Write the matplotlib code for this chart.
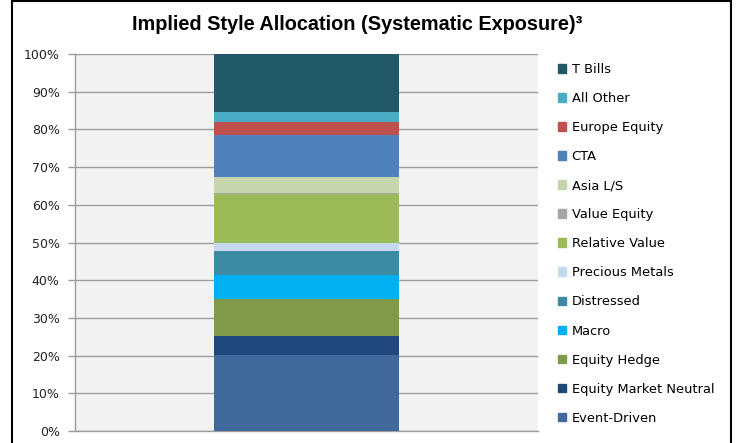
import matplotlib.pyplot as plt
import matplotlib.patches as mpatches
from matplotlib.ticker import PercentFormatter

plt.rcParams["font.family"] = ["DejaVu Sans"]

# stacked from the bottom up
styles = ["Event-Driven", "Equity Market Neutral", "Equity Hedge", "Macro",
          "Distressed", "Precious Metals", "Relative Value", "Value Equity",
          "Asia L/S", "CTA", "Europe Equity", "All Other", "T Bills"]
weights = [20.2, 5.0, 9.8, 6.4, 6.3, 2.1, 13.1, 0.2, 4.3, 11.0, 3.6, 2.6, 15.4]
colors = ["#3F6A9B", "#1F497D", "#7F9A48", "#00B0F0", "#3C8BA5", "#C6D9F1",
          "#9BBB59", "#A6A6A6", "#C5D6AC", "#4F81BD", "#C0504D", "#4BACC6",
          "#215968"]

fig = plt.figure(figsize=(7.36, 4.43), dpi=100)
ax = fig.add_axes([75 / 736, 12 / 443, 463 / 736, 377 / 443])
ax.set_facecolor("#F2F2F2")

bottom = 0
for name, w, c in zip(styles, weights, colors):
    ax.bar(0, w, width=0.4, bottom=bottom, color=c, label=name, zorder=3)
    bottom += w

ax.set_xlim(-0.5, 0.5)
ax.set_ylim(0, 100)
ax.set_yticks(range(0, 101, 10))
ax.yaxis.set_major_formatter(PercentFormatter(decimals=0))
ax.set_xticks([])
ax.grid(True, axis="y", color="#9C9C9C", linewidth=1.0, zorder=1)
ax.tick_params(axis="y", length=5, width=1.0, color="#9C9C9C",
               labelsize=9, pad=6, labelcolor="#222222")
for s in ["top", "right"]:
    ax.spines[s].set_visible(False)
for s in ["left", "bottom"]:
    ax.spines[s].set_color("#9C9C9C")
    ax.spines[s].set_linewidth(1.0)

handles = [mpatches.Patch(color=c) for c in colors][::-1]
fig.legend(handles, styles[::-1], loc="upper left",
           bbox_to_anchor=(558 / 736, 1 - 63 / 443), frameon=False,
           fontsize=9.4, handlelength=0.65, handleheight=0.65,
           handletextpad=0.4, labelspacing=1.23, borderpad=0, borderaxespad=0)

fig.text(357 / 736, 1 - 24 / 443, "Implied Style Allocation (Systematic Exposure)³",
         ha="center", va="center", fontsize=14.3, fontweight="bold",
         family=["Liberation Sans", "DejaVu Sans"])

# outer frame of the original slide
frame = mpatches.Rectangle((12 / 736, -0.1), 719 / 736, 1.1 - 1 / 443,
                           transform=fig.transFigure, fill=False,
                           edgecolor="black", linewidth=1.5)
fig.patches.append(frame)

plt.savefig("out.png", dpi=100)
